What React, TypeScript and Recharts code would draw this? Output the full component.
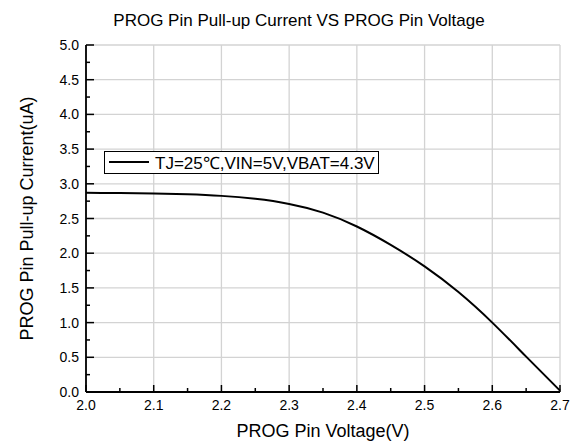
import React from "react";
import { LineChart, Line, XAxis, YAxis, CartesianGrid, Legend } from "recharts";

const voltage = [2.0, 2.05, 2.1, 2.15, 2.2, 2.25, 2.3, 2.35, 2.4, 2.45, 2.5, 2.55, 2.6, 2.65, 2.7];
const current = [2.87, 2.867, 2.861, 2.849, 2.826, 2.783, 2.71, 2.585, 2.385, 2.12, 1.81, 1.44, 1.0, 0.51, 0.02];

const xTicks = [2.0, 2.05, 2.1, 2.15, 2.2, 2.25, 2.3, 2.35, 2.4, 2.45, 2.5, 2.55, 2.6, 2.65, 2.7];
const xMajor = [2.0, 2.1, 2.2, 2.3, 2.4, 2.5, 2.6, 2.7];
const yTicks = [0, 0.25, 0.5, 0.75, 1, 1.25, 1.5, 1.75, 2, 2.25, 2.5, 2.75, 3, 3.25, 3.5, 3.75, 4, 4.25, 4.5, 4.75, 5];
const yMajor = [0, 0.5, 1, 1.5, 2, 2.5, 3, 3.5, 4, 4.5, 5];

const seriesName = "TJ=25℃,VIN=5V,VBAT=4.3V";
const title = "PROG Pin Pull-up Current VS PROG Pin Voltage";

const data = voltage.map((v, i) => ({ v, i: current[i] }));

const FONT = '"Liberation Sans", Arial, sans-serif';
const near = (a: number, step: number) => Math.abs(a / step - Math.round(a / step)) < 1e-6;

// tick marks point into the plot, labels only on the major ones
const BottomTick = (props: any) => {
  const { x, y, payload } = props;
  const major = near(payload.value, 0.1);
  return (
    <g>
      <line x1={x} x2={x} y1={y} y2={y - (major ? 7 : 4)} stroke="#000" strokeWidth={1.5} />
      {major && (
        <text x={x} y={y + 8} dy="0.72em" textAnchor="middle" fontSize={14} fontFamily={FONT} fill="#000">
          {payload.value.toFixed(1)}
        </text>
      )}
    </g>
  );
};

const TopTick = (props: any) => {
  const { x, y, payload } = props;
  const major = near(payload.value, 0.1);
  return <line x1={x} x2={x} y1={y} y2={y + (major ? 7 : 4)} stroke="#000" strokeWidth={1.5} />;
};

const LeftTick = (props: any) => {
  const { x, y, payload } = props;
  const major = near(payload.value, 0.5);
  return (
    <g>
      <line x1={x} x2={x + (major ? 8 : 4)} y1={y} y2={y} stroke="#000" strokeWidth={1.5} />
      {major && (
        <text x={x - 7} y={y} dy="0.36em" textAnchor="end" fontSize={14} fontFamily={FONT} fill="#000">
          {payload.value.toFixed(1)}
        </text>
      )}
    </g>
  );
};

const RightTick = (props: any) => {
  const { x, y, payload } = props;
  const major = near(payload.value, 0.5);
  return <line x1={x} x2={x - (major ? 8 : 4)} y1={y} y2={y} stroke="#000" strokeWidth={1.5} />;
};

const LegendBox = (props: any) => {
  const item = props.payload && props.payload[0];
  if (!item) return null;
  return (
    <div
      style={{
        display: "inline-flex",
        alignItems: "center",
        border: "1px solid #000",
        background: "#fff",
        height: 21,
        padding: "0 3px 0 4px",
        fontFamily: FONT,
        fontSize: 17,
        color: "#000",
        whiteSpace: "nowrap",
      }}
    >
      <svg width={40} height={4}>
        <line x1={0} x2={40} y1={2} y2={2} stroke="#000" strokeWidth={2} />
      </svg>
      <span style={{ marginLeft: 6 }}>{item.value}</span>
    </div>
  );
};

export default function App() {
  return (
    <div style={{ position: "absolute", left: 0, top: 0, width: 578, height: 444, background: "#fff" }}>
      <div
        style={{
          position: "absolute",
          left: 0,
          top: 12,
          width: 598,
          textAlign: "center",
          fontFamily: FONT,
          fontSize: 17,
          lineHeight: "17px",
          color: "#000",
          zIndex: 1,
        }}
      >
        {title}
      </div>
      <LineChart width={578} height={444} data={data} margin={{ top: 45, right: 18, bottom: 0, left: 0 }}>
        <CartesianGrid stroke="#d3d3d3" strokeWidth={1.3} horizontalValues={yMajor} verticalValues={xMajor} />
        <XAxis
          dataKey="v"
          type="number"
          domain={[2, 2.7]}
          ticks={xTicks}
          interval={0}
          tickSize={0}
          tickMargin={0}
          tick={<BottomTick />}
          height={52}
          axisLine={{ stroke: "#000", strokeWidth: 1.8 }}
          label={{ value: "PROG Pin Voltage(V)", position: "insideBottom", offset: 7, fontSize: 18, fontFamily: FONT, fill: "#000" }}
        />
        <XAxis
          xAxisId="top"
          orientation="top"
          dataKey="v"
          type="number"
          domain={[2, 2.7]}
          ticks={xTicks}
          interval={0}
          tickSize={0}
          tickMargin={0}
          tick={<TopTick />}
          height={0}
          axisLine={{ stroke: "#000", strokeWidth: 1.8 }}
        />
        <YAxis
          type="number"
          domain={[0, 5]}
          ticks={yTicks}
          interval={0}
          tickSize={0}
          tickMargin={0}
          tick={<LeftTick />}
          width={86}
          axisLine={{ stroke: "#000", strokeWidth: 1.8 }}
          label={{ value: "PROG Pin Pull-up Current(uA)", angle: -90, position: "center", dx: -16, fontSize: 18, fontFamily: FONT, fill: "#000" }}
        />
        <YAxis
          yAxisId="right"
          orientation="right"
          type="number"
          domain={[0, 5]}
          ticks={yTicks}
          interval={0}
          tickSize={0}
          tickMargin={0}
          tick={<RightTick />}
          width={0}
          axisLine={{ stroke: "#000", strokeWidth: 1.8 }}
        />
        <Legend
          layout="vertical"
          align="center"
          verticalAlign="middle"
          content={<LegendBox />}
          wrapperStyle={{ left: 104, top: 150, width: "auto" }}
        />
        <Line
          type="natural"
          dataKey="i"
          name={seriesName}
          stroke="#000"
          strokeWidth={2}
          dot={false}
          isAnimationActive={false}
        />
      </LineChart>
    </div>
  );
}
